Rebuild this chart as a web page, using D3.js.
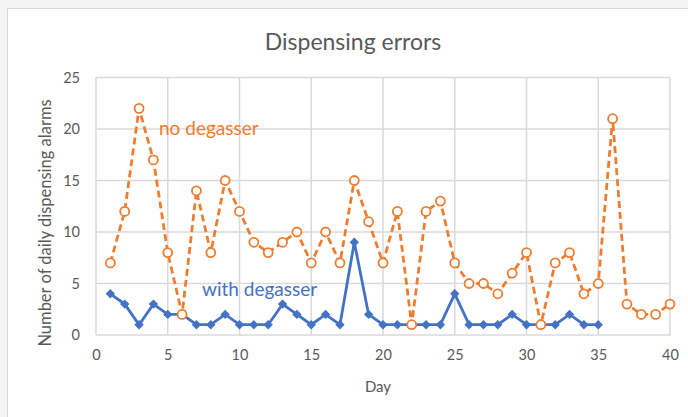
<!DOCTYPE html>
<html><head><meta charset="utf-8">
<script src="https://cdn.jsdelivr.net/npm/d3@7"></script>
<style>body{margin:0;background:#fff}svg{display:block}</style>
</head><body>
<svg id="c" width="688" height="417"></svg>
<script>
const daysNo = d3.range(1, 41);
const noDegasser = [7,12,22,17,8,2,14,8,15,12,9,8,9,10,7,10,7,15,11,7,12,1,12,13,7,5,5,4,6,8,1,7,8,4,5,21,3,2,2,3];
const daysWith = d3.range(1, 36);
const withDegasser = [4,3,1,3,2,2,1,1,2,1,1,1,3,2,1,2,1,9,2,1,1,1,1,1,4,1,1,1,2,1,1,1,2,1,1];
const xTicks = [0,5,10,15,20,25,30,35,40];
const yTicks = [0,5,10,15,20,25];

const svg = d3.select("#c");
const font = "Lato, 'Open Sans', sans-serif";
svg.append("rect").attr("x",0).attr("y",0).attr("width",688).attr("height",417).attr("fill","#f4f4f4");
svg.append("rect").attr("x",7.5).attr("y",8.5).attr("width",700).attr("height",420).attr("fill","#fff").attr("stroke","#d9d9d9");

const x = d3.scaleLinear().domain([0,40]).range([96,670]);
const y = d3.scaleLinear().domain([0,25]).range([335,77.5]);
const grid = "#d9d9d9";

svg.append("g").selectAll("line").data(yTicks).join("line")
  .attr("x1",x(0)).attr("x2",x(40)).attr("y1",d=>y(d)).attr("y2",d=>y(d))
  .attr("stroke",grid).attr("stroke-width",1.5);
svg.append("g").selectAll("line").data(xTicks).join("line")
  .attr("y1",y(0)).attr("y2",y(25)).attr("x1",d=>x(d)).attr("x2",d=>x(d))
  .attr("stroke",grid).attr("stroke-width",1.5);

const xa = svg.append("g").attr("transform",`translate(0,${y(0)})`).call(d3.axisBottom(x).tickValues(xTicks).tickSize(0).tickPadding(15));
xa.select(".domain").remove();
xa.selectAll("text").attr("fill","#595959").style("font-family",font).style("font-size","14.5px");
const ya = svg.append("g").attr("transform",`translate(${x(0)},0)`).call(d3.axisLeft(y).tickValues(yTicks).tickSize(0).tickPadding(16));
ya.select(".domain").remove();
ya.selectAll("text").attr("fill","#595959").style("font-family",font).style("font-size","14.5px");

const lineNo = d3.line().x((d,i)=>x(daysNo[i])).y(d=>y(d));
const lineWith = d3.line().x((d,i)=>x(daysWith[i])).y(d=>y(d));

svg.append("path").datum(noDegasser).attr("d",lineNo).attr("fill","none")
  .attr("stroke","#ED7D31").attr("stroke-width",2.8).attr("stroke-dasharray","7,4");
svg.append("path").datum(withDegasser).attr("d",lineWith).attr("fill","none")
  .attr("stroke","#4472C4").attr("stroke-width",2.8);

svg.append("g").selectAll("path").data(withDegasser).join("path")
  .attr("d",d3.symbol().type(d3.symbolDiamond2).size(56))
  .attr("transform",(d,i)=>`translate(${x(daysWith[i])},${y(d)})`)
  .attr("fill","#4472C4");
svg.append("g").selectAll("circle").data(noDegasser).join("circle")
  .attr("cx",(d,i)=>x(daysNo[i])).attr("cy",d=>y(d)).attr("r",4.5)
  .attr("fill","#fff").attr("stroke","#ED7D31").attr("stroke-width",1.8);

svg.append("text").attr("x",353).attr("y",50).attr("text-anchor","middle")
  .attr("fill","#595959").style("font-family",font).style("font-size","23px").text("Dispensing errors");
svg.append("text").attr("x",159).attr("y",135).attr("fill","#ED7D31")
  .style("font-family",font).style("font-size","19px").text("no degasser");
svg.append("text").attr("x",202).attr("y",296).attr("fill","#4472C4")
  .style("font-family",font).style("font-size","19px").text("with degasser");
svg.append("text").attr("x",378).attr("y",392).attr("text-anchor","middle")
  .attr("fill","#595959").style("font-family",font).style("font-size","15px").text("Day");
svg.append("text").attr("transform","translate(51,223) rotate(-90)").attr("text-anchor","middle")
  .attr("fill","#595959").style("font-family",font).style("font-size","16.5px").text("Number of daily dispensing alarms");
</script>
</body></html>
